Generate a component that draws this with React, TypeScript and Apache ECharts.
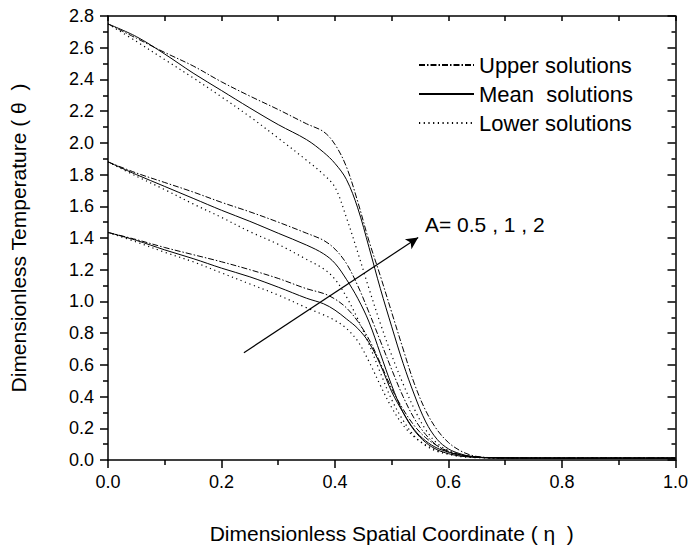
import React, { useEffect, useRef } from "react";
import * as echarts from "echarts";

// Dimensionless spatial coordinate (eta)
const eta = [0, 0.05, 0.1, 0.15, 0.2, 0.25, 0.3, 0.35, 0.38, 0.4, 0.42, 0.44, 0.46, 0.48, 0.5, 0.52, 0.54, 0.56, 0.58, 0.6, 0.62, 0.64, 0.66, 0.7, 0.8, 0.9, 1.0];

// A = 2
const upperA2 = [2.75, 2.66, 2.57, 2.485, 2.385, 2.295, 2.21, 2.12, 2.07, 1.99, 1.85, 1.63, 1.38, 1.16, 0.93, 0.70, 0.48, 0.31, 0.19, 0.11, 0.06, 0.03, 0.018, 0.013, 0.012, 0.012, 0.012];
const meanA2 = [2.75, 2.67, 2.56, 2.44, 2.33, 2.22, 2.115, 2.02, 1.94, 1.87, 1.77, 1.59, 1.34, 1.08, 0.84, 0.61, 0.41, 0.24, 0.13, 0.07, 0.04, 0.022, 0.016, 0.013, 0.012, 0.012, 0.012];
const lowerA2 = [2.75, 2.64, 2.525, 2.41, 2.29, 2.165, 2.03, 1.89, 1.80, 1.72, 1.53, 1.31, 1.08, 0.86, 0.66, 0.48, 0.32, 0.19, 0.105, 0.06, 0.035, 0.02, 0.015, 0.013, 0.012, 0.012, 0.012];

// A = 1
const upperA1 = [1.88, 1.81, 1.75, 1.69, 1.625, 1.565, 1.50, 1.43, 1.385, 1.33, 1.24, 1.10, 0.93, 0.75, 0.57, 0.40, 0.26, 0.16, 0.09, 0.05, 0.03, 0.02, 0.015, 0.013, 0.012, 0.012, 0.012];
const meanA1 = [1.88, 1.80, 1.725, 1.65, 1.575, 1.505, 1.43, 1.355, 1.30, 1.24, 1.14, 1.02, 0.87, 0.67, 0.47, 0.30, 0.185, 0.11, 0.065, 0.04, 0.025, 0.018, 0.015, 0.013, 0.012, 0.012, 0.012];
const lowerA1 = [1.88, 1.79, 1.705, 1.615, 1.53, 1.44, 1.36, 1.265, 1.205, 1.14, 1.03, 0.89, 0.73, 0.55, 0.38, 0.25, 0.15, 0.09, 0.055, 0.035, 0.022, 0.016, 0.014, 0.013, 0.012, 0.012, 0.012];

// A = 0.5
const upperA05 = [1.435, 1.39, 1.34, 1.295, 1.25, 1.20, 1.145, 1.08, 1.05, 1.015, 0.96, 0.875, 0.76, 0.61, 0.45, 0.32, 0.215, 0.14, 0.09, 0.055, 0.035, 0.022, 0.016, 0.013, 0.012, 0.012, 0.012];
const meanA05 = [1.435, 1.385, 1.325, 1.27, 1.21, 1.155, 1.09, 1.02, 0.985, 0.945, 0.89, 0.83, 0.74, 0.60, 0.43, 0.30, 0.19, 0.12, 0.075, 0.05, 0.033, 0.022, 0.016, 0.013, 0.012, 0.012, 0.012];
const lowerA05 = [1.435, 1.375, 1.31, 1.25, 1.18, 1.11, 1.04, 0.96, 0.915, 0.88, 0.83, 0.75, 0.62, 0.47, 0.33, 0.22, 0.145, 0.095, 0.06, 0.04, 0.027, 0.02, 0.015, 0.013, 0.012, 0.012, 0.012];

const legendNames = ["Upper solutions", "Mean  solutions", "Lower solutions"];
const arrowStart = [0.2395, 0.6765];
const arrowEnd = [0.5466, 1.403];
const annotation = "A= 0.5 , 1 , 2";
const xTitle = "Dimensionless Spatial Coordinate ( \u03b7  )";
const yTitle = "Dimensionless Temperature ( \u03b8  )";

const FONT = "'Liberation Sans', Arial, sans-serif";

export default function App() {
  const ref = useRef<HTMLDivElement>(null);
  useEffect(() => {
    if (!ref.current) return;
    const chart = echarts.init(ref.current, undefined, { renderer: "svg" });
    const dashDot = [6, 2, 1.5, 2];
    const dotted = [1.2, 3.5];
    const styles: Record<string, any> = {
      upper: { type: dashDot, width: 1, color: "#000" },
      mean: { type: "solid", width: 1, color: "#000" },
      lower: { type: dotted, width: 1.2, color: "#000" },
    };
    const groups: [string, number[], string][] = [
      [legendNames[0], upperA2, "upper"],
      [legendNames[1], meanA2, "mean"],
      [legendNames[2], lowerA2, "lower"],
      [legendNames[0], upperA1, "upper"],
      [legendNames[1], meanA1, "mean"],
      [legendNames[2], lowerA1, "lower"],
      [legendNames[0], upperA05, "upper"],
      [legendNames[1], meanA05, "mean"],
      [legendNames[2], lowerA05, "lower"],
    ];
    const series: any[] = groups.map(([name, vals, kind], i) => ({
      type: "line",
      name,
      xAxisIndex: 0,
      yAxisIndex: 0,
      data: eta.map((x, j) => [x, vals[j]]),
      showSymbol: false,
      symbol: "none",
      smooth: 0.35,
      lineStyle: styles[kind],
      itemStyle: { color: "#000" },
      z: 3,
      ...(i === 0
        ? {
            markLine: {
              silent: true,
              symbol: ["none", "arrow"],
              symbolSize: [9, 12],
              label: { show: false },
              lineStyle: { color: "#000", width: 1.2, type: "solid" },
              data: [[{ coord: arrowStart }, { coord: arrowEnd }]],
            },
          }
        : {}),
    }));

    const axisLine = { show: true, onZero: false, lineStyle: { color: "#000", width: 1.5 } };
    chart.setOption({
      animation: false,
      backgroundColor: "#fff",
      textStyle: { fontFamily: FONT },
      grid: { left: 104, right: 12, top: 16, bottom: 87, containLabel: false },
      legend: {
        data: legendNames,
        orient: "vertical",
        left: 413,
        top: 49,
        itemWidth: 55,
        itemHeight: 14,
        itemGap: 7,
        itemStyle: { opacity: 0 },
        textStyle: { fontSize: 22, color: "#000", fontFamily: FONT },
        selectedMode: false,
      },
      xAxis: [
        {
          type: "value",
          position: "bottom",
          min: 0,
          max: 1,
          interval: 0.2,
          axisLine,
          axisTick: { show: true, inside: false, length: 8, lineStyle: { color: "#000", width: 1.5 } },
          minorTick: { show: true, splitNumber: 2, length: 5, lineStyle: { color: "#000", width: 1.5 } },
          axisLabel: { fontSize: 18, color: "#000", margin: 13, fontFamily: FONT, formatter: (v: number) => v.toFixed(1) },
          splitLine: { show: false },
          name: xTitle,
          nameLocation: "middle",
          nameGap: 63,
          nameTextStyle: { fontSize: 21, color: "#000", fontFamily: FONT },
        },
        {
          type: "value",
          position: "top",
          min: 0,
          max: 1,
          interval: 0.2,
          axisLine,
          axisTick: { show: true, inside: true, length: 5, lineStyle: { color: "#000", width: 1.5 } },
          minorTick: { show: true, splitNumber: 2, length: 5, lineStyle: { color: "#000", width: 1.5 } },
          axisLabel: { show: false },
          splitLine: { show: false },
        },
      ],
      yAxis: [
        {
          type: "value",
          position: "left",
          min: 0,
          max: 2.8,
          interval: 0.2,
          axisLine,
          axisTick: { show: true, inside: false, length: 8, lineStyle: { color: "#000", width: 1.5 } },
          minorTick: { show: true, splitNumber: 2, length: 5, lineStyle: { color: "#000", width: 1.5 } },
          axisLabel: { fontSize: 18, color: "#000", margin: 14, fontFamily: FONT, formatter: (v: number) => v.toFixed(1) },
          splitLine: { show: false },
          name: yTitle,
          nameLocation: "middle",
          nameGap: 79,
          nameTextStyle: { fontSize: 21, color: "#000", fontFamily: FONT },
        },
        {
          type: "value",
          position: "right",
          min: 0,
          max: 2.8,
          interval: 0.2,
          axisLine,
          axisTick: { show: true, inside: true, length: 8, lineStyle: { color: "#000", width: 1.5 } },
          minorTick: { show: true, splitNumber: 2, length: 4, lineStyle: { color: "#000", width: 1.5 } },
          axisLabel: { show: false },
          splitLine: { show: false },
        },
      ],
      graphic: [
        {
          type: "text",
          left: 425,
          top: 214,
          style: { text: annotation, font: `21px ${FONT}`, fill: "#000" },
        },
      ],
      series,
    });
    return () => chart.dispose();
  }, []);
  return (
    <div
      ref={ref}
      style={{ position: "fixed", left: 0, top: 0, width: 691, height: 549, background: "#fff" }}
    />
  );
}
